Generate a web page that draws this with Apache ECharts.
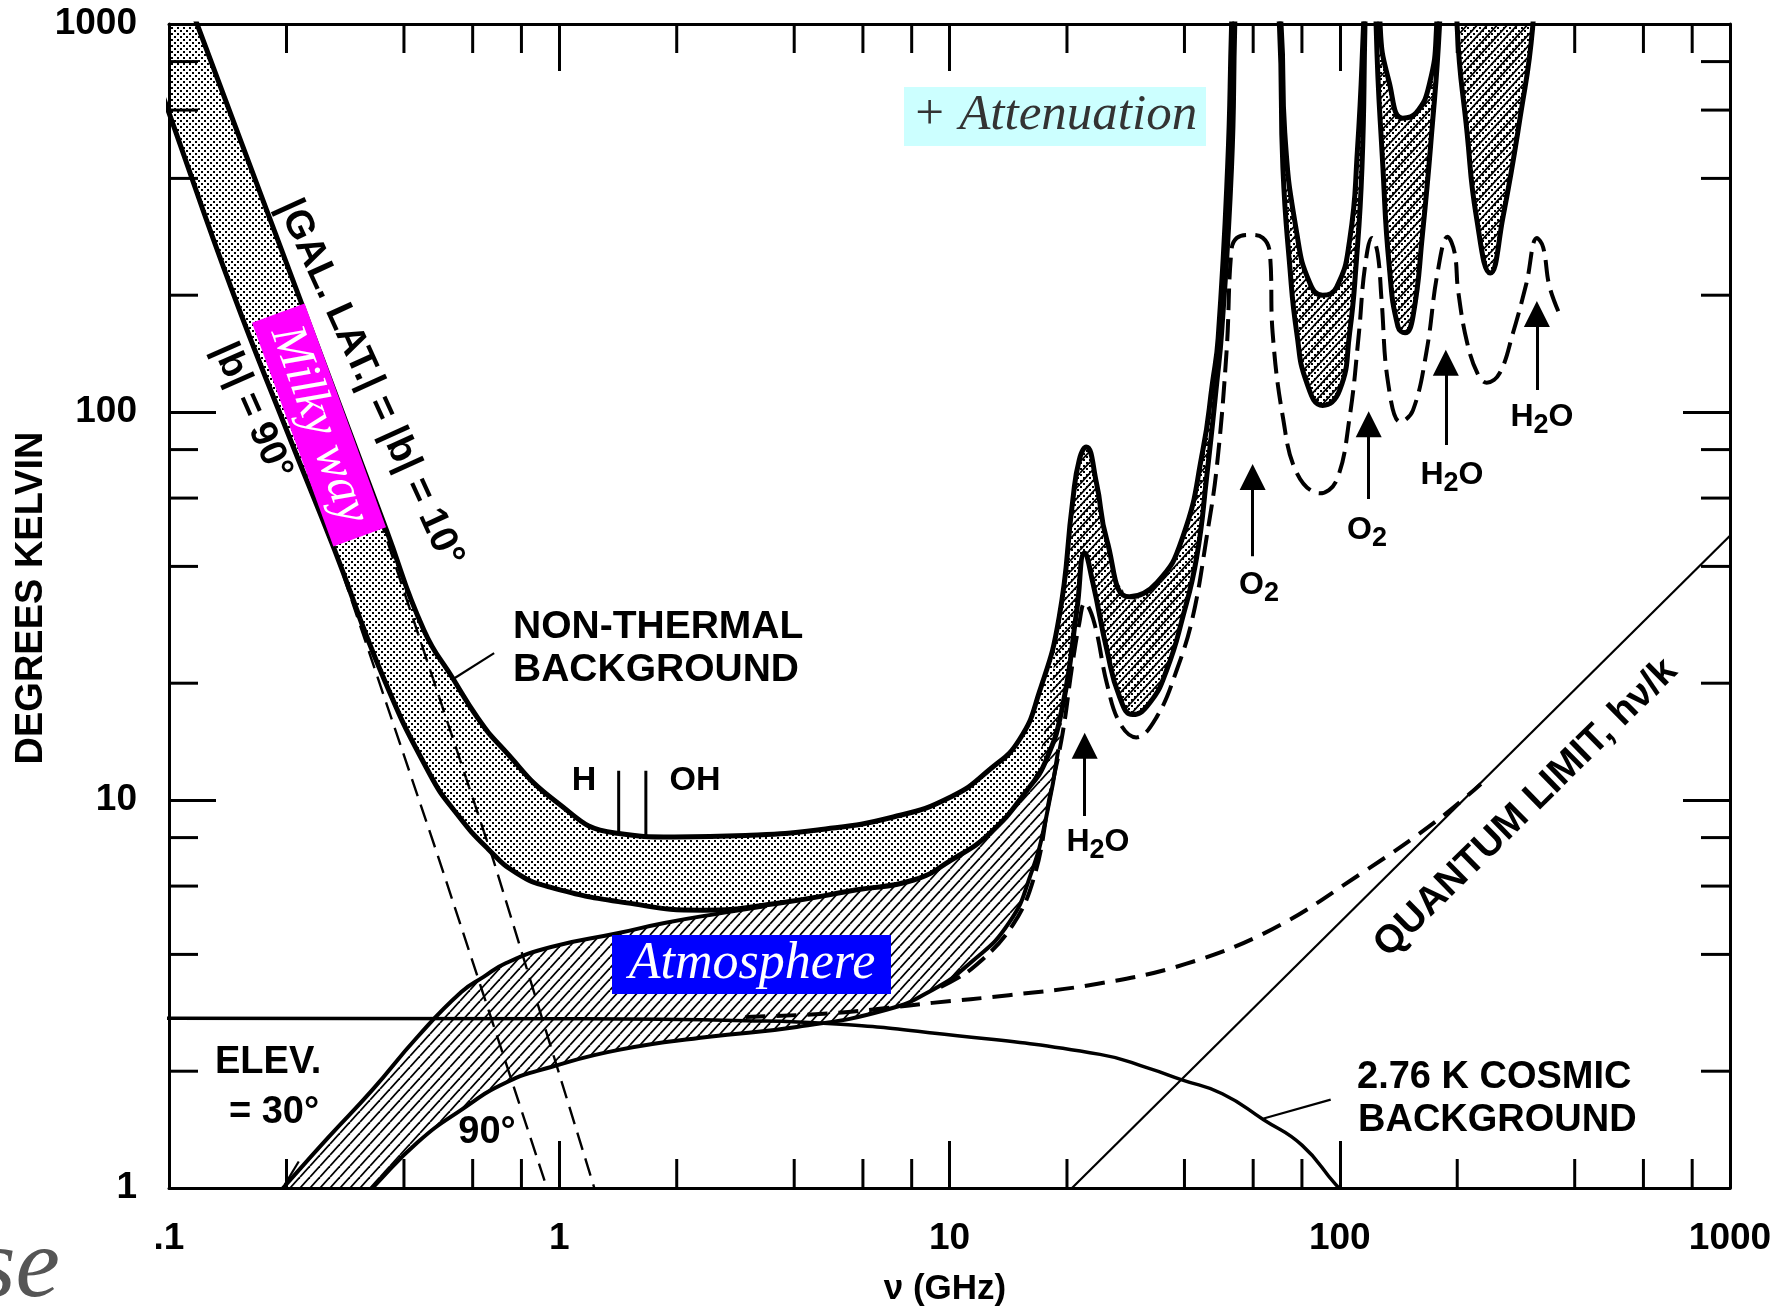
<!DOCTYPE html>
<html><head><meta charset="utf-8">
<script src="https://cdn.jsdelivr.net/npm/echarts@6.0.0/dist/echarts.min.js"></script>
<style>html,body{margin:0;padding:0;background:#fff;}#c{width:1778px;height:1314px;}</style>
</head><body><div id="c"></div>
<script>
// ---------------- data (frequency GHz, temperature K) ----------------
const X_MINOR = [0.2,0.4,0.6,0.8,2,4,6,8,20,40,60,80,200,400,600,800];
const Y_MINOR = [2,4,6,8,20,40,60,80,200,400,600,800];

// galactic |b|=10 total (upper solid)
const G10 = [[0.09,2070],[0.118,1000],[0.2,242],[0.36,49.9],[0.45,27.4],[0.535,20.5],[0.62,16.2],[0.706,13.8],[0.982,9.9],[1.39,8.22],[1.97,8.03],[3,8.1],[4.59,8.37],[7.18,9.04],[10.1,10.2],[12.7,12.0],[15.1,14.3],[17,19],[19.1,29.6],[20.7,59.3],[21.5,75.2],[22.4,81.2],[23.8,65.6],[25.3,46.8],[28.9,33.4],[34,36.3],[39.6,47.6],[44.6,79.8],[47.2,119],[48.8,155],[51.6,427],[52.8,977],[53.5,1500],[62,6000],[70.8,977],[72.3,524],[77.6,289],[83.8,215],[90.4,200],[98.2,210],[106,277],[111,473],[115,977],[116.5,1500],[121,6000],[127,977],[134,705],[145,572],[157,590],[170,705],[177,977],[179,1500],[250,8000],[1100,8000]];
// galactic |b|=90 total (middle solid)
const G90 = [[0.09,795],[0.1,590],[0.145,206],[0.2,90],[0.265,44.4],[0.352,21],[0.465,11.7],[0.547,9.2],[0.657,7.48],[0.776,6.49],[0.942,5.97],[1.49,5.43],[2.33,5.2],[3.67,5.43],[5.74,5.86],[8.09,6.22],[10.1,7.0],[12.7,8.22],[15.8,10.6],[17.7,12.7],[19.5,17.5],[21.2,30.9],[22.2,43.3],[23.3,36.3],[25.3,24.4],[27.3,18.4],[29.5,16.6],[32.6,17.8],[36,21.6],[39.6,29.6],[43,42.3],[45.6,68],[48.4,119],[49.8,160],[52.8,427],[53.8,977],[54.5,1500],[62,6000],[70.1,977],[71.5,427],[74.5,236],[77.6,160],[82.3,119],[90.4,104],[100,114],[106,160],[110,236],[114,427],[116,977],[117,1500],[120,6000],[124,977],[129,427],[134,236],[141,166],[147,160],[154,176],[163,289],[172,524],[180,977],[182,1500],[190,6000],[200,977],[212,524],[224,318],[243,228],[262,318],[290,576],[312,977],[318,1500],[400,8000],[1100,8000]];
// atmosphere, elevation 30 deg (upper hatched edge) and 90 deg (lower hatched edge)
const ATM30_LOW = [[0.17,0.85],[0.196,1.0],[0.256,1.35],[0.332,1.79],[0.433,2.45],[0.561,3.2],[0.64,3.5],[0.731,3.8],[0.953,4.18],[1.42,4.54],[1.86,4.82],[2.6,5.11],[3.4,5.33]];
const ATM30_BRIDGE = [[17.4,14.5]];
const ATM90_LOW = [[0.3,0.9],[0.332,1.0],[0.433,1.31],[0.561,1.59],[0.731,1.87],[0.953,2.05],[1.42,2.27],[2.39,2.45],[4.06,2.6],[6.89,2.88],[9.04,3.24],[11.3,3.8],[14.2,4.82],[16.2,6.49],[17.7,9.04],[19,13.5]];
// galactic-only dashed lines
const GAL90_ONLY = [[0.265,44.4],[0.486,7.3],[0.93,1.0],[0.98,0.85]];
const GAL10_ONLY = [[0.345,54],[0.678,7.0],[1.23,1.0],[1.3,0.85]];
// cosmic background + quantum (dashed)
const CMB_QUANT = [[3.0,2.76],[5,2.82],[6.89,2.91],[9.04,3.0],[14.2,3.14],[24,3.36],[40.3,3.78],[67.3,4.65],[112,6.41],[177,8.83],[230,11]];
// zenith atmosphere (dashed) with O2 / H2O lines
const ATM_DASH = [[9.5,3.3],[11.5,3.7],[14.6,4.8],[16.6,6.5],[18,10],[19.5,14.9],[20.6,22],[21.5,28.5],[22.2,32.2],[23.5,28.6],[25.3,20],[27.3,15.8],[30.1,14.5],[34,16.4],[38.2,21.6],[42,29.6],[45.6,47.6],[48.4,72],[51.3,144],[52.8,262],[54.5,281],[58.8,286],[63.5,281],[66.2,257],[67.3,160],[71.5,97],[77.6,69.7],[88.9,61.7],[98.2,66.8],[106,97],[112,160],[116,236],[121,281],[125,257],[128,194],[133,119],[143,94.2],[154,101],[167,144],[178,228],[189,283],[197,257],[201,206],[212,151],[226,125],[238,119],[257,126],[278,160],[301,215],[320,281],[332,266],[345,210],[371,173]];
// 2.76 K cosmic background
const CMB = [[0.09,2.74],[1,2.73],[3,2.7],[5,2.65],[9.04,2.51],[24.3,2.21],[32.6,2.03],[39.4,1.9],[50,1.75],[63.8,1.5],[80,1.29],[97.7,1.02],[103,0.97]];
// quantum limit h nu / k
const QUANTUM = [[20.6,1.0],[1000,48]];
// H and OH line markers
const H_LINE = [[1.42,8.15],[1.42,11.9]];
const OH_LINE = [[1.667,8.08],[1.667,11.9]];
// leader lines
const NT_LEADER = [[0.681,23.9],[0.535,20.5]];
const CMB_LEADER = [[94.8,1.69],[63.8,1.51]];
const ELEV_LEADER = [[0.215,1.17],[0.198,1.02]];
// absorption line arrows
const ARROWS = [[[22.2,9.1],[22.2,13.8]],[[59.8,42.5],[59.8,68]],[[118.6,59.7],[118.6,93]],[[187,82.2],[187,134]],[[320,114],[320,179]]];

// ---------------- patterns ----------------
function dotPattern(){
  const c=document.createElement('canvas');c.width=6;c.height=6;
  const g=c.getContext('2d');g.fillStyle='#000';
  g.fillRect(0,0,2,2);g.fillRect(3,3,2,2);
  return {image:c,repeat:'repeat'};
}
function hatchPattern(){
  const w=10,h=11;
  const c=document.createElement('canvas');c.width=w;c.height=h;
  const g=c.getContext('2d');g.strokeStyle='#000';g.lineWidth=1.8;
  [-w,0,w].forEach(dx=>{g.beginPath();g.moveTo(dx,h);g.lineTo(dx+w,0);g.stroke();});
  return {image:c,repeat:'repeat'};
}
const DOTS=dotPattern(), HATCH=hatchPattern();

const ATM_UP = ATM30_LOW.concat(G90.filter(p=>p[0]>3.4&&p[0]<16), ATM30_BRIDGE, G10.filter(p=>p[0]>=19));
const ATM_LO = ATM90_LOW.concat(G90.filter(p=>p[0]>=21));

const SM=0.5;
function band(upper, lower, fill, z){
  return {type:'custom', clip:true, silent:true, z, data:[[1,1]],
    renderItem(params, api){
      const pts = upper.map(p=>api.coord(p)).concat(lower.slice().reverse().map(p=>api.coord(p)));
      return {type:'polygon', shape:{points:pts, smooth:SM}, style:{fill, stroke:null}};
    }};
}
function line(data, width, dash, smooth){
  return {type:'line', data, showSymbol:false, symbol:'none', clip:true, silent:true, z:5,
    smooth: smooth===undefined?SM:smooth,
    lineStyle:{color:'#000', width, type: dash||'solid', cap:'butt', join:'round'}};
}

// ---------------- text helpers ----------------
const F='"Liberation Sans", Arial, Helvetica, sans-serif';
const SERIF='"Liberation Serif", "Times New Roman", serif';
const mctx=document.createElement('canvas').getContext('2d');
function tw(s,font){mctx.font=font;return mctx.measureText(s).width;}
function T(x,y,text,o={}){
  const size=o.size||38, align=o.align||'center', va=o.va||'middle';
  const font=`${o.style||'normal'} ${o.weight||'bold'} ${size}px ${o.family||F}`;
  return {type:'text', x, y, rotation:(o.rot||0)*Math.PI/180, z:100, silent:true,
    style:{text, x:0, y:0, fill:o.color||'#000', font, align, verticalAlign:va, textAlign:align, textVerticalAlign:va}};
}
function chem(cx,cy,a,s,b){
  const big=`normal bold 32px ${F}`, small=`normal bold 27px ${F}`;
  const wa=tw(a,big), ws=tw(s,small), wb=b?tw(b,big):0;
  const left=cx-(wa+ws+wb)/2;
  const arr=[T(left,cy,a,{size:32,align:'left'}),T(left+wa,cy+9,s,{size:27,align:'left'})];
  if(b) arr.push(T(left+wa+ws,cy,b,{size:32,align:'left'}));
  return arr;
}

const graphics = [
  {type:'rect', z:90, silent:true, shape:{x:904,y:87,width:302,height:59}, style:{fill:'#ccffff'}},
  T(912,116,'+ Attenuation',{size:51,align:'left',weight:'normal',style:'italic',family:SERIF,color:'#333'}),
  {type:'rect', z:90, silent:true, shape:{x:612,y:935,width:279,height:59}, style:{fill:'#0000ff'}},
  T(752,964,'Atmosphere',{size:52,weight:'normal',style:'italic',family:SERIF,color:'#fff'}),
  {type:'group', x:319, y:425, rotation:-70*Math.PI/180, z:90, children:[
    {type:'rect', z:90, silent:true, shape:{x:-119,y:-28,width:238,height:56}, style:{fill:'#ff00ff'}},
    {type:'text', z:100, silent:true, style:{text:'Milky way', x:0, y:0, fill:'#fff', font:`italic normal 50px ${SERIF}`, align:'center', verticalAlign:'middle'}}
  ]},
  T(370,383,'|GAL. LAT.| = |b| = 10°',{rot:-65.5,size:39}),
  T(252,411,'|b| = 90°',{rot:-66}),
  T(513,627,'NON-THERMAL',{align:'left',size:39}),
  T(513,670,'BACKGROUND',{align:'left',size:39}),
  T(584,781,'H',{size:34}),
  T(695,781,'OH',{size:34}),
  T(215,1063,'ELEV.',{align:'left'}),
  T(274,1113,'= 30°'),
  T(487,1133,'90°'),
  T(1357,1078,'2.76 K COSMIC',{align:'left'}),
  T(1358,1121,'BACKGROUND',{align:'left'}),
  T(1526,808,'QUANTUM LIMIT, hν/k',{rot:44.5,size:39}),
  T(32,598,'DEGREES KELVIN',{rot:90}),
  T(945,1289,'ν (GHz)',{size:35}),
  T(60,1270,'se',{size:100,align:'right',weight:'normal',style:'italic',family:SERIF,color:'#555'}),
  ...chem(1098,842,'H','2','O'),
  ...chem(1452,475,'H','2','O'),
  ...chem(1542,417,'H','2','O'),
  ...chem(1259,585,'O','2'),
  ...chem(1367,530,'O','2')
];

// ---------------- axes ----------------
const lab = {show:true, margin:32, fontSize:37, fontWeight:'bold', fontFamily:F, color:'#000', showMinLabel:true, showMaxLabel:true};
const tick = {show:true, inside:true, length:47, lineStyle:{color:'#000', width:3}};
const aline = {show:true, onZero:false, lineStyle:{color:'#000', width:3}};
const xBase = {type:'log', logBase:10, min:0.1, max:1000, splitLine:{show:false}, axisLine:aline, axisTick:tick};
const yBase = {type:'log', logBase:10, min:1, max:1000, splitLine:{show:false}, axisLine:aline, axisTick:tick};

function minorTicks(dim){
  return {type:'custom', silent:true, z:6, clip:false,
    data:(dim==='x'?X_MINOR.map(v=>[v,1]):Y_MINOR.map(v=>[0.1,v])),
    renderItem(params, api){
      const st={stroke:'#000', lineWidth:3};
      if(dim==='x'){
        const v=api.value(0); const b=api.coord([v,1]), t=api.coord([v,1000]);
        return {type:'group', children:[
          {type:'line', shape:{x1:b[0],y1:b[1],x2:b[0],y2:b[1]-29}, style:st},
          {type:'line', shape:{x1:t[0],y1:t[1],x2:t[0],y2:t[1]+29}, style:st}]};
      } else {
        const v=api.value(1); const l=api.coord([0.1,v]), r=api.coord([1000,v]);
        return {type:'group', children:[
          {type:'line', shape:{x1:l[0],y1:l[1],x2:l[0]+29,y2:l[1]}, style:st},
          {type:'line', shape:{x1:r[0],y1:r[1],x2:r[0]-29,y2:r[1]}, style:st}]};
      }
    }};
}

const chart = echarts.init(document.getElementById('c'), null, {renderer:'canvas', width:1778, height:1314});
chart.setOption({
  animation:false,
  backgroundColor:'#fff',
  grid:{left:169, right:48, top:24, bottom:126, containLabel:false},
  xAxis:[
    {...xBase, position:'bottom', axisLabel:{...lab, formatter:v=>v<0.5?'.1':String(Math.round(v))}},
    {...xBase, position:'top', axisLabel:{show:false}}
  ],
  yAxis:[
    {...yBase, position:'left', axisLabel:{...lab, formatter:v=>String(Math.round(v))}},
    {...yBase, position:'right', axisLabel:{show:false}}
  ],
  series:[
    band(G10, G90, DOTS, 1),
    band(ATM_UP, ATM_LO, HATCH, 2),
    line(G10, 5),
    line(G90, 5),
    line(ATM30_LOW, 4),
    line(ATM90_LOW, 4),
    line(CMB, 3.5),
    line(QUANTUM, 2.2, 'solid', false),
    line(GAL90_ONLY, 2.4, [18,9], false),
    line(GAL10_ONLY, 2.4, [18,9], false),
    line(CMB_QUANT, 4, [20,11], 0.4),
    line(ATM_DASH, 4, [22,9], 0.4),
    line(H_LINE, 3, 'solid', false),
    line(OH_LINE, 3, 'solid', false),
    line(NT_LEADER, 2.2, 'solid', false),
    line(CMB_LEADER, 2.2, 'solid', false),
    line(ELEV_LEADER, 2.2, 'solid', false),
    {type:'lines', coordinateSystem:'cartesian2d', silent:true, z:7,
      symbol:['none','triangle'], symbolSize:[13,26],
      lineStyle:{color:'#000', width:3, opacity:1, curveness:0},
      data:ARROWS.map(c=>({coords:c}))},
    minorTicks('x'),
    minorTicks('y')
  ],
  graphic:{elements:graphics}
});
</script></body></html>
